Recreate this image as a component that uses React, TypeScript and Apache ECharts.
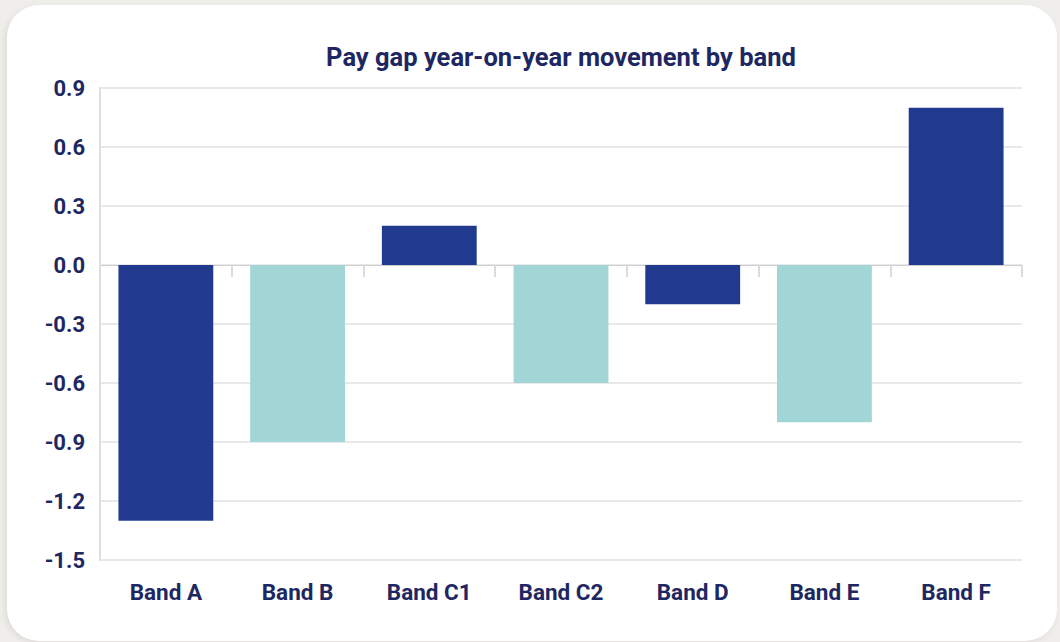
import React, { useEffect, useRef } from "react";
import * as echarts from "echarts";

const categories = ["Band A", "Band B", "Band C1", "Band C2", "Band D", "Band E", "Band F"];
const values = [-1.3, -0.9, 0.2, -0.6, -0.2, -0.8, 0.8];
const barColors = ["#213a8f", "#a2d6d6", "#213a8f", "#a2d6d6", "#213a8f", "#a2d6d6", "#213a8f"];
const titleText = "Pay gap year-on-year movement by band";

const TEXT = "#1e2762";

export default function App() {
  const ref = useRef<HTMLDivElement>(null);
  useEffect(() => {
    if (!ref.current) return;
    const chart = echarts.init(ref.current, undefined, { renderer: "svg" });
    chart.setOption({
      animation: false,
      title: {
        text: titleText,
        left: 556,
        top: 39,
        textAlign: "center",
        textStyle: { fontFamily: "Roboto", fontWeight: "bold", fontSize: 25.5, color: TEXT },
      },
      grid: { left: 100, top: 88, right: 38, bottom: 82, containLabel: false },
      xAxis: [
        {
          type: "category",
          data: categories,
          axisLine: { onZero: true, lineStyle: { color: "#cfcfcf", width: 1 } },
          axisTick: { show: true, length: 12, lineStyle: { color: "#dcdcdc", width: 2 } },
          axisLabel: { show: false },
        },
        {
          type: "category",
          data: categories,
          position: "bottom",
          axisLine: { show: false, onZero: false },
          axisTick: { show: false },
          axisLabel: {
            show: true,
            margin: 20,
            fontFamily: "Roboto",
            fontWeight: "bold",
            fontSize: 22.5,
            color: TEXT,
          },
        },
      ],
      yAxis: {
        type: "value",
        min: -1.5,
        max: 0.9,
        interval: 0.3,
        axisLine: { show: true, lineStyle: { color: "#dedede", width: 2 } },
        axisTick: { show: false },
        splitLine: { lineStyle: { color: "#e2e2e2", width: 1.5 } },
        axisLabel: {
          margin: 15,
          fontFamily: "Roboto",
          fontWeight: "bold",
          fontSize: 22,
          color: TEXT,
          formatter: (v: number) => v.toFixed(1),
        },
      },
      series: [
        {
          type: "bar",
          xAxisIndex: 0,
          data: values.map((v, i) => ({ value: v, itemStyle: { color: barColors[i] } })),
          barCategoryGap: "28%",
        },
      ],
    });
    return () => chart.dispose();
  }, []);

  return (
    <div style={{ position: "fixed", left: 0, top: 0, width: 1060, height: 642, background: "#efeeea", overflow: "hidden" }}>
      <div
        style={{
          position: "absolute",
          left: 7,
          top: 5,
          width: 1050,
          height: 636,
          background: "#ffffff",
          borderRadius: 32,
          boxShadow: "-2px 2px 6px rgba(0,0,0,0.08)",
        }}
      />
      <div ref={ref} style={{ position: "absolute", left: 0, top: 0, width: 1060, height: 642 }} />
    </div>
  );
}
